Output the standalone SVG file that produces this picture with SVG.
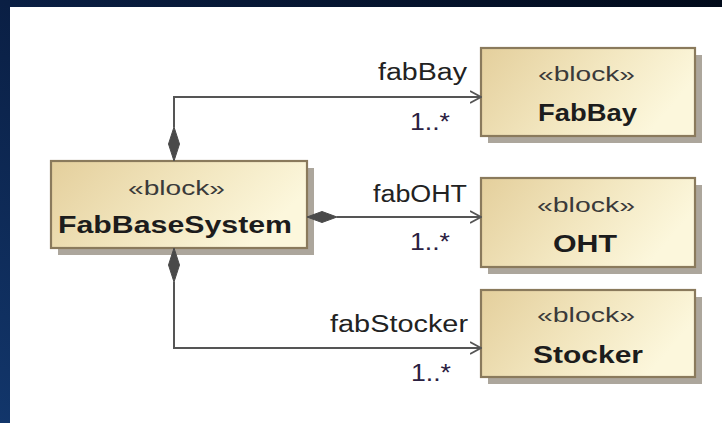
<svg xmlns="http://www.w3.org/2000/svg" width="722" height="423" viewBox="0 0 722 423">
  <defs>
    <linearGradient id="frameGrad" x1="0" y1="1" x2="1" y2="0">
      <stop offset="0" stop-color="#12366b"/>
      <stop offset="0.5" stop-color="#0a1f44"/>
      <stop offset="1" stop-color="#010a1a"/>
    </linearGradient>
    <linearGradient id="blockFill" x1="0" y1="0" x2="1" y2="0.35">
      <stop offset="0" stop-color="#e4cf9c"/>
      <stop offset="0.55" stop-color="#f2e6bf"/>
      <stop offset="1" stop-color="#fcf7dc"/>
    </linearGradient>
    <marker id="openArrow" viewBox="0 0 12 14" refX="11" refY="7" markerWidth="12" markerHeight="14" markerUnits="userSpaceOnUse" orient="auto">
      <polyline points="0,1 11,7 0,13" fill="none" stroke="#555" stroke-width="1.8"/>
    </marker>
  </defs>
  <style>
    .shadow { fill: #aca69c; }
    .block { fill: url(#blockFill); stroke: #8a7a5c; stroke-width: 2.2; }
    .stereo { font-family: "Liberation Sans", Arial, sans-serif; font-size: 21px; fill: #3a3a3a; }
    .name { font-family: "Liberation Sans", Arial, sans-serif; font-size: 23px; font-weight: bold; fill: #1c1c1c; }
    .role { font-family: "Liberation Sans", Arial, sans-serif; font-size: 23px; fill: #222; }
    .mult { font-family: "Liberation Sans", Arial, sans-serif; font-size: 24px; fill: #2a2040; }
    .assoc { fill: none; stroke: #555; stroke-width: 2; }
    .diamond { fill: #4a4a4a; stroke: #4a4a4a; stroke-width: 1; }
  </style>

  <!-- frame and canvas -->
  <rect x="0" y="0" width="722" height="423" fill="url(#frameGrad)"/>
  <rect x="10" y="7" width="712" height="416" fill="#ffffff"/>

  <!-- blocks -->
  <g id="FabBaseSystem">
    <rect class="shadow" x="58" y="168" width="256" height="87"/>
    <rect class="block" x="51" y="161" width="256" height="87"/>
    <text class="stereo" x="128" y="195" textLength="97" lengthAdjust="spacingAndGlyphs">«block»</text>
    <text class="name" x="58" y="233" textLength="234" lengthAdjust="spacingAndGlyphs">FabBaseSystem</text>
  </g>

  <g id="FabBay">
    <rect class="shadow" x="488" y="55" width="214" height="88"/>
    <rect class="block" x="481" y="48" width="214" height="88"/>
    <text class="stereo" x="538" y="81" textLength="97" lengthAdjust="spacingAndGlyphs">«block»</text>
    <text class="name" x="538" y="121" textLength="99" lengthAdjust="spacingAndGlyphs">FabBay</text>
  </g>

  <g id="OHT">
    <rect class="shadow" x="488" y="185" width="214" height="89"/>
    <rect class="block" x="481" y="178" width="214" height="89"/>
    <text class="stereo" x="537" y="212" textLength="98" lengthAdjust="spacingAndGlyphs">«block»</text>
    <text class="name" x="553" y="252" textLength="64" lengthAdjust="spacingAndGlyphs">OHT</text>
  </g>

  <g id="Stocker">
    <rect class="shadow" x="488" y="297" width="214" height="87"/>
    <rect class="block" x="481" y="290" width="214" height="87"/>
    <text class="stereo" x="537" y="322" textLength="98" lengthAdjust="spacingAndGlyphs">«block»</text>
    <text class="name" x="533" y="363" textLength="110" lengthAdjust="spacingAndGlyphs">Stocker</text>
  </g>

  <!-- composite associations -->
  <g id="connectors">
    <g id="fabBay-assoc">
      <path class="assoc" d="M174,127 V97 H481" marker-end="url(#openArrow)"/>
      <polygon class="diamond" points="174,161 179.5,144 174,127 168.5,144"/>
      <text class="role" x="378" y="80" textLength="89" lengthAdjust="spacingAndGlyphs">fabBay</text>
      <text class="mult" x="410" y="130" textLength="40" lengthAdjust="spacingAndGlyphs">1..*</text>
    </g>
    <g id="fabOHT-assoc">
      <path class="assoc" d="M337,217 H481" marker-end="url(#openArrow)"/>
      <polygon class="diamond" points="307,217 322,211.5 337,217 322,222.5"/>
      <text class="role" x="373" y="202" textLength="94" lengthAdjust="spacingAndGlyphs">fabOHT</text>
      <text class="mult" x="410" y="250" textLength="40" lengthAdjust="spacingAndGlyphs">1..*</text>
    </g>
    <g id="fabStocker-assoc">
      <path class="assoc" d="M174,282 V348 H481" marker-end="url(#openArrow)"/>
      <polygon class="diamond" points="174,248 179.5,265 174,282 168.5,265"/>
      <text class="role" x="330" y="332" textLength="138" lengthAdjust="spacingAndGlyphs">fabStocker</text>
      <text class="mult" x="411" y="381" textLength="40" lengthAdjust="spacingAndGlyphs">1..*</text>
    </g>
  </g>
</svg>
